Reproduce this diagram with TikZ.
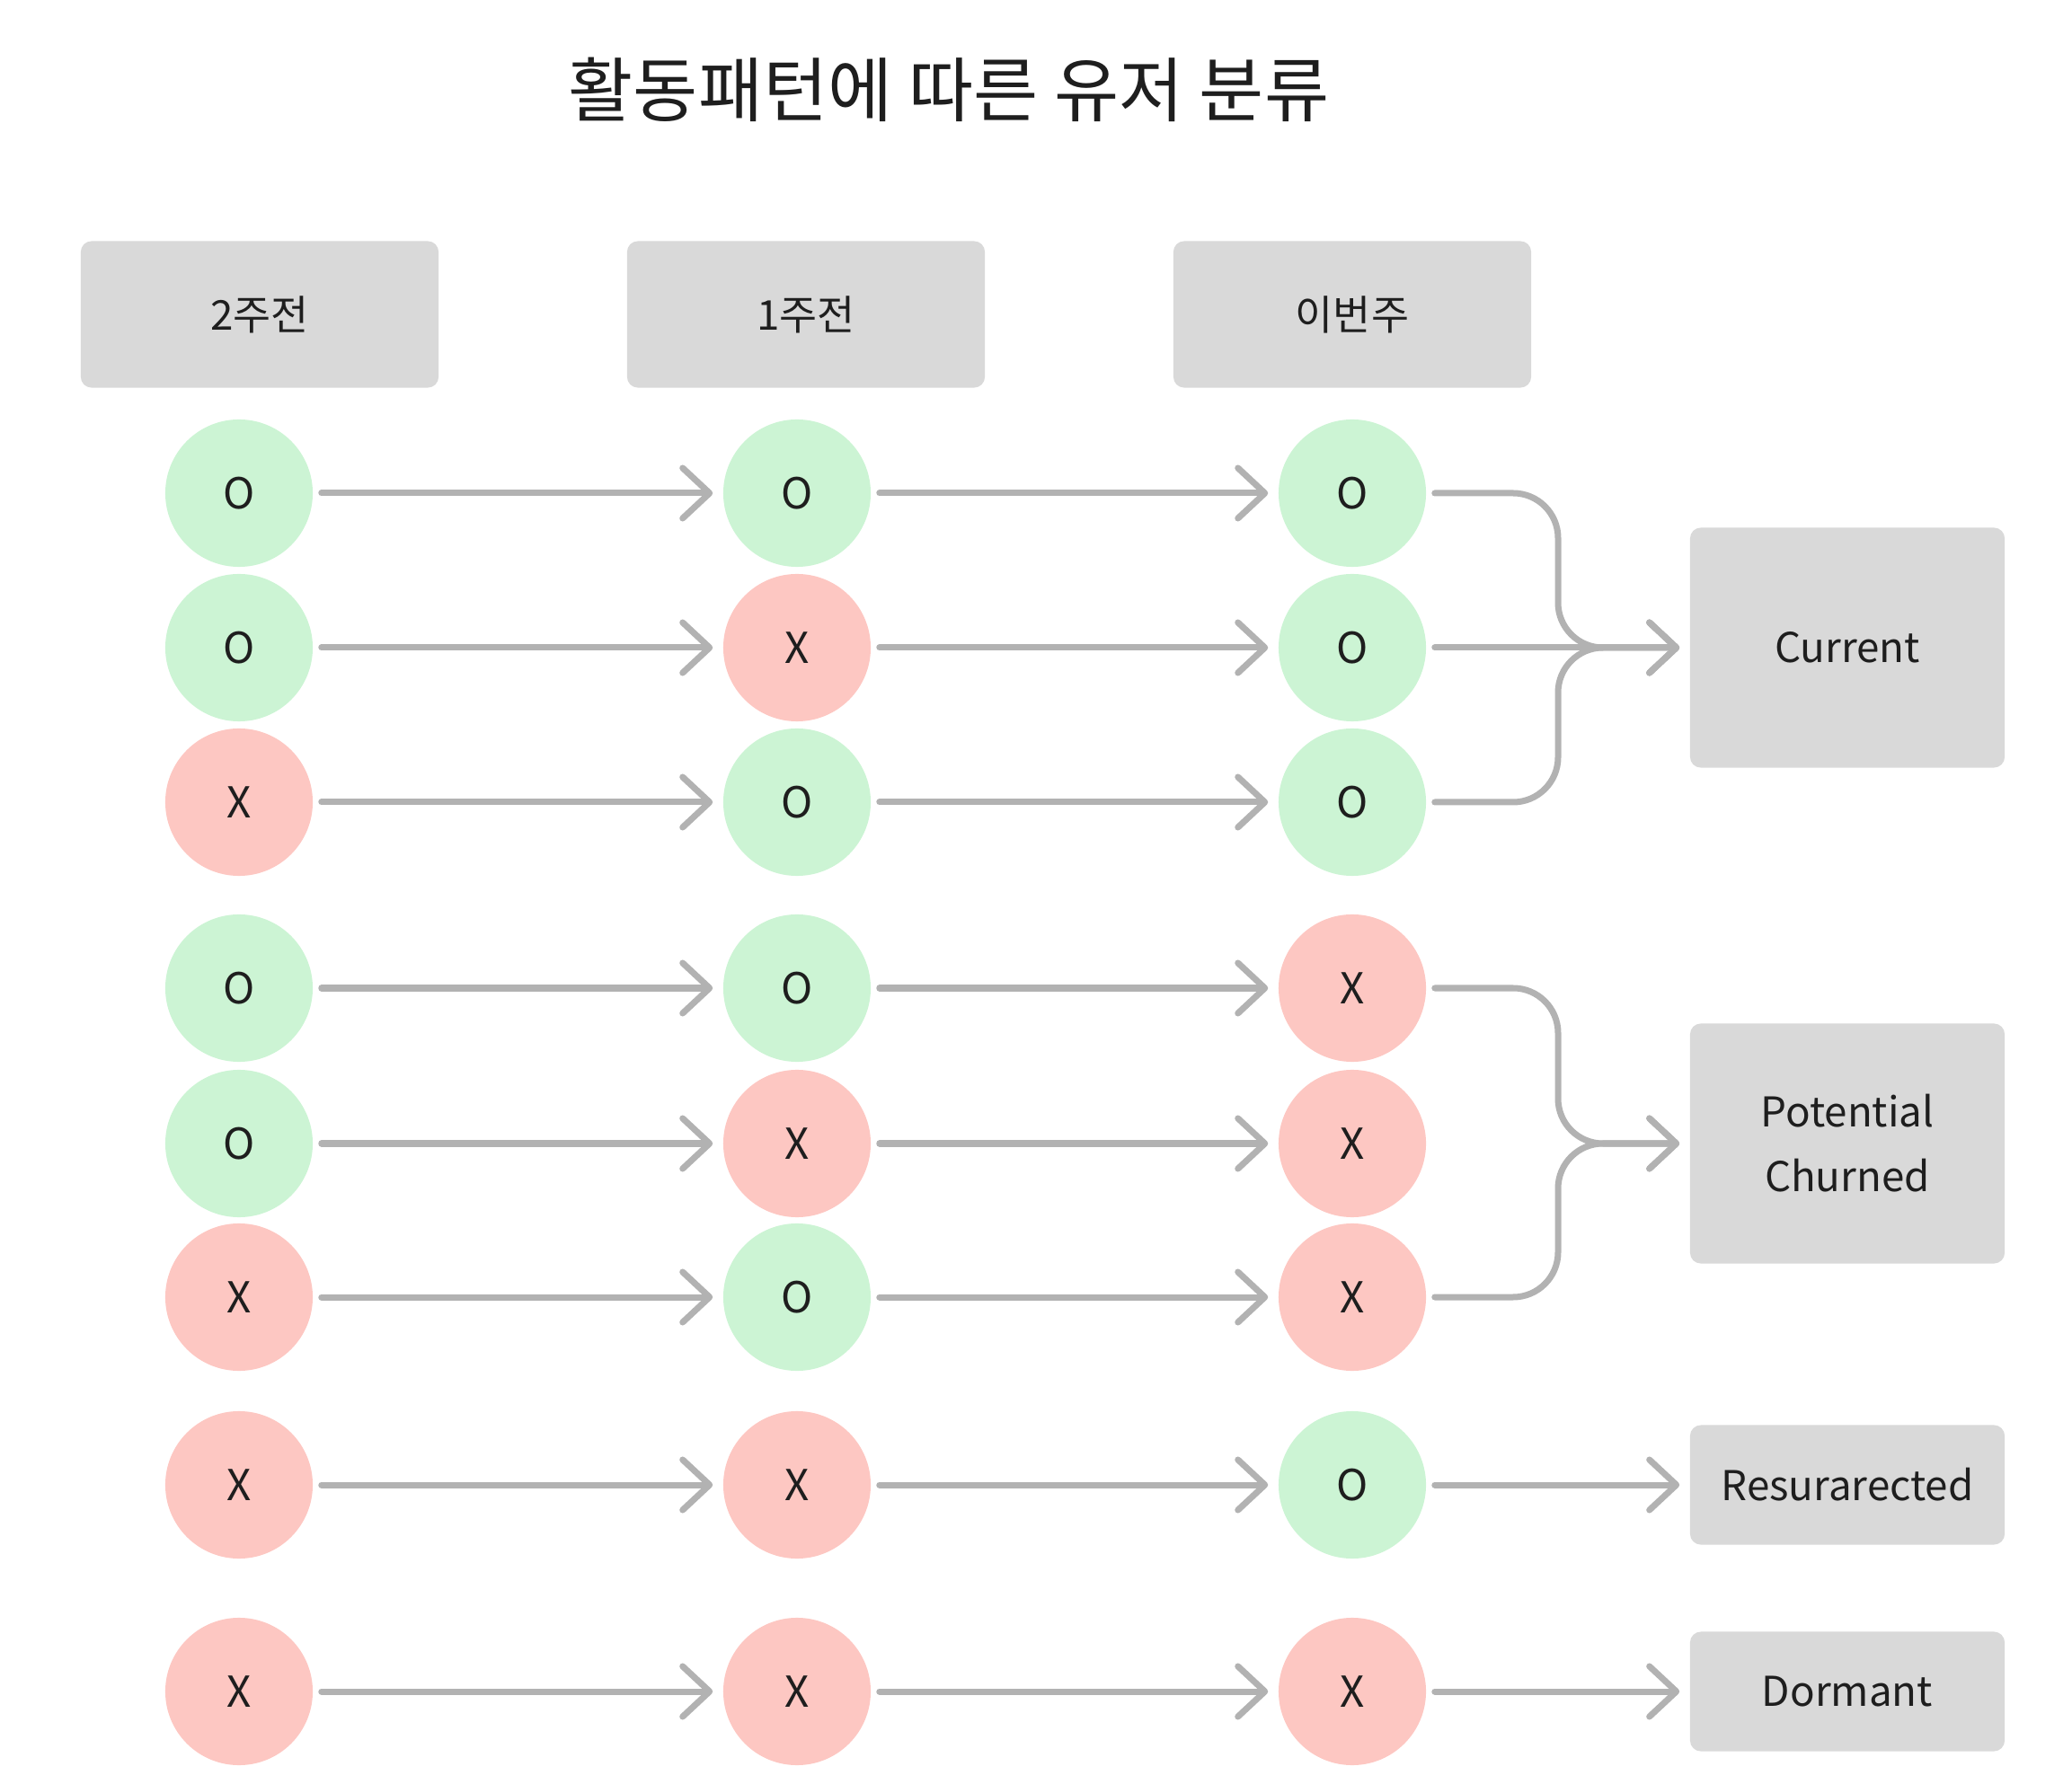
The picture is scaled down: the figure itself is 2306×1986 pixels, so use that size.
\documentclass[tikz,border=0pt]{standalone}
\usepackage{fontspec}
\setmainfont{Noto Sans CJK KR}
\usetikzlibrary{arrows.meta, positioning}
\definecolor{BoxGray}{RGB}{217,217,217}
\definecolor{LineGray}{RGB}{178,178,178}
\definecolor{MarkO}{RGB}{204,244,212}
\definecolor{MarkX}{RGB}{253,199,194}
\definecolor{InkDark}{RGB}{30,30,30}
\def\xa{266}
\def\xb{887}
\def\xc{1505}
\tikzset{
    hdr/.style={fill=BoxGray, rounded corners=0.12cm, minimum width=3.98cm,
        minimum height=1.63cm, text=InkDark, font=\fontsize{13}{20.5}\selectfont},
    res/.style={hdr, minimum width=3.5cm, align=center},
    dot/.style={circle, fill=Mark#1, minimum size=1.64cm, inner sep=0pt,
        text=InkDark, font=\fontsize{13.5}{16}\selectfont},
    flow/.style={LineGray, line width=0.07cm, line cap=round,
        shorten <=0.09cm, shorten >=0.11cm,
        -{Straight Barb[length=0.3cm, width=0.56cm, round]}}
}

\begin{document}
\begin{tikzpicture}[x=0.01cm, y=-0.01cm]

\useasboundingbox (0,0) rectangle (2306,1986);

% title
\node[text=InkDark, font=\fontsize{22.3}{27}\selectfont] (title) at (1056,100) {활동패턴에 따른 유저 분류};

% column headers
\node[hdr] (h1) at (289,350) {2주전};
\node[hdr] (h2) at (897,350) {1주전};
\node[hdr] (h3) at (1505,350) {이번주};

% rows of O/X
\foreach \y/\a/\b/\c [count=\i] in {%
    549/O/O/O, 721/O/X/O, 893/X/O/O,
    1100/O/O/X, 1273/O/X/X, 1444/X/O/X,
    1653/X/X/O, 1883/X/X/X}{%
    \node[dot=\a] (r\i-1) at (\xa,\y) {\a};
    \node[dot=\b] (r\i-2) at (\xb,\y) {\b};
    \node[dot=\c] (r\i-3) at (\xc,\y) {\c};
    \draw[flow] (r\i-1) -- (r\i-2);
    \draw[flow] (r\i-2) -- (r\i-3);
}

% result boxes
\node[res, minimum height=2.67cm] (cur) at (2056,721) {Current};
\node[res, minimum height=2.67cm] (pot) at (2056,1273) {Potential\\Churned};
\node[res, minimum height=1.33cm] (resu) at (2056,1653) {Resurarected};
\node[res, minimum height=1.33cm] (dorm) at (2056,1883) {Dormant};

% merge points
\coordinate (jc) at (1734,721);
\coordinate (jp) at (1734,1273);

\draw[flow, rounded corners=0.5cm] (r1-3) -| (jc) -- (cur);
\draw[flow, rounded corners=0.5cm] (r3-3) -| (jc) -- (cur);
\draw[flow] (r2-3) -- (cur);

\draw[flow, rounded corners=0.5cm] (r4-3) -| (jp) -- (pot);
\draw[flow, rounded corners=0.5cm] (r6-3) -| (jp) -- (pot);

\draw[flow] (r7-3) -- (resu);
\draw[flow] (r8-3) -- (dorm);

\end{tikzpicture}
\end{document}
